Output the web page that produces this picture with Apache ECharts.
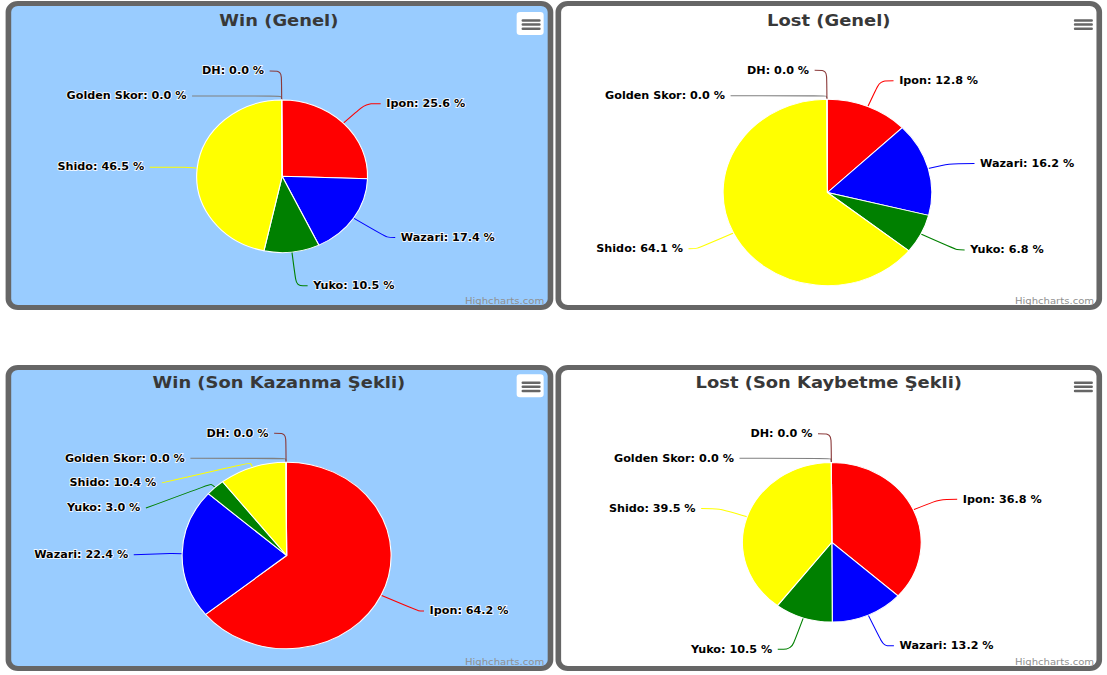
<!DOCTYPE html>
<html><head><meta charset="utf-8">
<script src="https://cdn.jsdelivr.net/npm/echarts/dist/echarts.min.js"></script>
<style>
html,body{margin:0;padding:0;background:#fff;width:1107px;height:675px;overflow:hidden;}
#stage{position:absolute;left:0;top:0;width:988.4px;height:675px;transform:scaleX(1.12);transform-origin:0 0;}
.panel{position:absolute;box-sizing:border-box;border:5px solid #666;border-radius:11px;overflow:hidden;}
.chart{position:absolute;left:0;top:0;width:100%;height:100%;}
</style></head><body>
<div id="stage">
 <div class="panel" style="left:5.4px;top:1px;width:488.4px;height:309px;background:#99ccff"><div class="chart" id="c0"></div></div>
 <div class="panel" style="left:496.2px;top:1px;width:487.7px;height:309px;background:#ffffff"><div class="chart" id="c1"></div></div>
 <div class="panel" style="left:5.4px;top:365px;width:488.4px;height:306px;background:#99ccff"><div class="chart" id="c2"></div></div>
 <div class="panel" style="left:496.2px;top:365px;width:487.7px;height:306px;background:#ffffff"><div class="chart" id="c3"></div></div>
</div>
<script>
// ---- data ----
const categories = ['Ipon', 'Wazari', 'Yuko', 'Shido', 'Golden Skor', 'DH'];
const winGenel  = [25.6, 17.4, 10.5, 46.5, 0.0, 0.0];
const lostGenel = [12.8, 16.2, 6.8, 64.1, 0.0, 0.0];
const winSon    = [64.2, 22.4, 3.0, 10.4, 0.0, 0.0];
const lostSon   = [36.8, 13.2, 10.5, 39.5, 0.0, 0.0];
const titles = ['Win (Genel)', 'Lost (Genel)', 'Win (Son Kazanma Şekli)', 'Lost (Son Kaybetme Şekli)'];
const creditText = 'Highcharts.com';

// ---- styling ----
const colors = ['#ff0000', '#0000ff', '#008000', '#ffff00', '#808080', '#8b3a3a'];
const allValues = [winGenel, lostGenel, winSon, lostSon];
const layouts = [
  {center:[241.9,170.3], r:76.3, titleTop:4, menuY:6, menuX:455.7, boxFill:'#fff',
   l1:[27.9,35.5,33.8,10.9,4,29], l2:[13.3,7.4,10.1,31.5,80,10.6], dy:[0,0,0,0,0,0]},
  {center:[237.8,186.5], r:93.2, titleTop:4, menuY:6, menuX:457.8, boxFill:'#fff',
   l1:[28.0,19.1,35.9,35.8,3.6,29], l2:[12.1,22.8,6.9,7.9,86,10.8], dy:[0,0,0,0,0,0]},
  {center:[245.9,185.5], r:93.3, titleTop:2.5, menuY:4.3, menuX:455.7, boxFill:'#fff',
   l1:[36.8,10,5,5,3.9,28.9], l2:[5.0,33.2,58.4,79.4,85.4,10.5], dy:[0,1.3,24.3,20.3,0,0]},
  {center:[241.7,172.3], r:79.8, titleTop:2.5, menuY:4.3, menuX:457.8, boxFill:'#fff',
   l1:[25.8,33.6,33.0,26.1,4.2,28.8], l2:[15.5,9.2,12.3,16.3,82,11.8], dy:[0,0,0,0,0,0]}
];

function makeOption(i) {
  const vals = allValues[i];
  const L = layouts[i];
  const mx = L.menuX, my = L.menuY;
  return {
    animation: false,
    backgroundColor: 'transparent',
    title: {
      text: titles[i], left: 'center', top: L.titleTop, padding: 0,
      textStyle: {fontFamily: 'DejaVu Sans', fontSize: 16, fontWeight: 'bold', color: '#383838', lineHeight: 20}
    },
    graphic: [
      {type:'rect', silent:true, z:10, shape:{x:mx-4.4, y:my, width:24.1, height:23, r:3}, style:{fill:L.boxFill}},
      {type:'rect', silent:true, z:11, shape:{x:mx, y:my+7.3, width:17, height:2.5, r:1}, style:{fill:'#666'}},
      {type:'rect', silent:true, z:11, shape:{x:mx, y:my+11.3, width:17, height:2.5, r:1}, style:{fill:'#666'}},
      {type:'rect', silent:true, z:11, shape:{x:mx, y:my+15.5, width:17, height:2.5, r:1}, style:{fill:'#666'}},
      {type:'text', silent:true, right:2, bottom:0, style:{text:creditText, fontSize:9, fill:'#909090', fontFamily:'DejaVu Sans'}}
    ],
    series: [{
      type: 'pie',
      silent: true,
      center: L.center,
      radius: L.r,
      startAngle: 90.3,
      clockwise: true,
      avoidLabelOverlap: false,
      itemStyle: {borderColor: '#ffffff', borderWidth: 1},
      emphasis: {disabled: true},
      label: {
        show: true, position: 'outside', distanceToLabelLine: 5,
        fontFamily: 'DejaVu Sans', fontSize: 10, fontWeight: 'bold', color: '#000',
        textBorderColor: '#ffffff', textBorderWidth: 1.5,
        formatter: p => p.name + ': ' + Number(p.value).toFixed(1) + ' %'
      },
      labelLine: {show: true, smooth: 0.3, lineStyle: {width: 1}},
      labelLayout: function (p) {
        const d = L.dy[p.dataIndex];
        if (!d) return {};
        const out = {y: p.labelRect.y + p.labelRect.height / 2 + d};
        if (p.labelLinePoints) {
          const pts = p.labelLinePoints.map(q => [q[0], q[1]]);
          pts[pts.length - 1][1] += d;
          out.labelLinePoints = pts;
        }
        return out;
      },
      data: categories.map((c, k) => ({
        name: c, value: vals[k],
        itemStyle: {color: colors[k]},
        labelLine: {length: L.l1[k], length2: L.l2[k]}
      }))
    }]
  };
}

for (let i = 0; i < 4; i++) {
  const ch = echarts.init(document.getElementById('c' + i), null, {renderer: 'svg'});
  ch.setOption(makeOption(i));
}
</script>
</body></html>
